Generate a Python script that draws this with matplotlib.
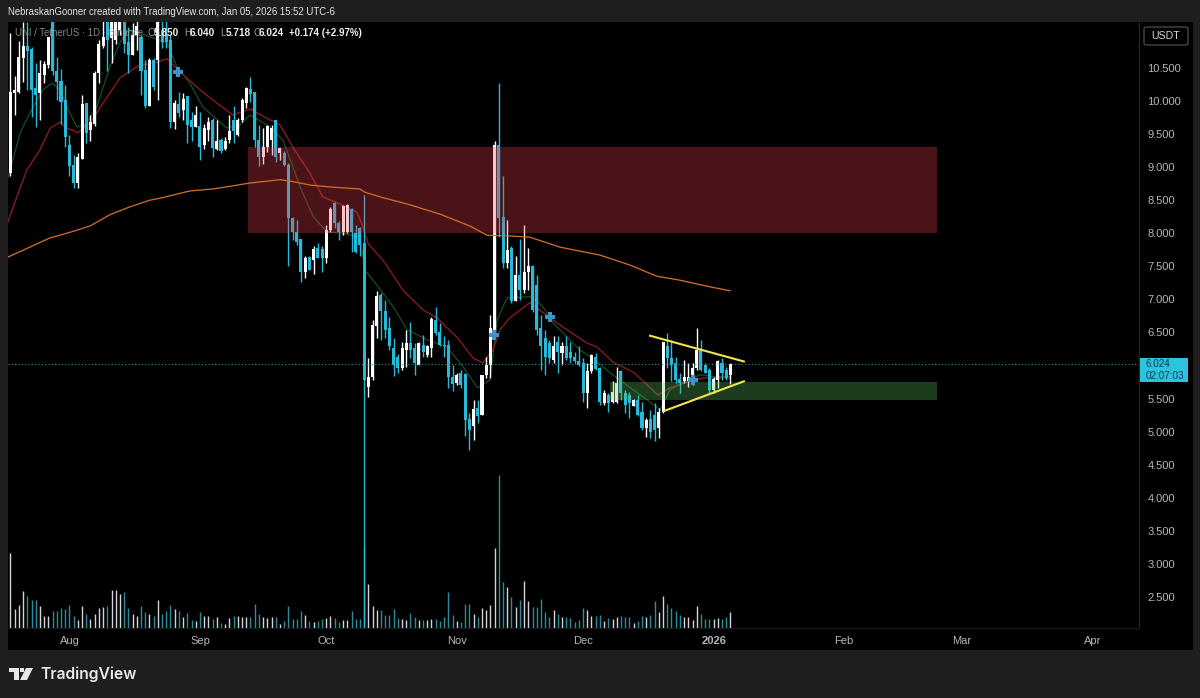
"""UNI / TetherUS daily chart, dark TradingView look."""

import matplotlib

matplotlib.use("Agg")
import matplotlib.pyplot as plt
import numpy as np
from matplotlib.patches import FancyBboxPatch, Polygon, Rectangle

plt.rcParams["font.family"] = ["Liberation Sans", "DejaVu Sans"]

WIDTH, HEIGHT = 1200, 698

# x is in days since 2025-07-18, the first visible candle
opens = [
    8.91, 10.12, 10.14, 10.65, 10.83, 10.78, 10.19, 10.12, 10.39, 10.55,
    11.2, 10.46, 10.31, 10.02, 9.34, 9.03, 8.76, 9.13, 9.97, 9.56,
    9.66, 10.42, 10.83, 11.3, 10.95, 10.92, 11.07, 11.25, 10.90, 10.70,
    11.0, 10.97, 10.47, 9.92, 10.62, 10.62, 11.07, 11.02, 10.92, 9.69,
    9.95, 9.87, 10.07, 9.71, 9.61, 9.62, 9.34, 9.56, 9.72, 9.27,
    9.41, 9.27, 9.41, 9.71, 9.49, 9.71, 9.97, 10.18, 10.13, 9.41,
    9.16, 9.31, 9.41, 9.71, 9.21, 9.21, 9.03, 8.23, 8.02, 7.91,
    7.42, 7.64, 7.60, 7.77, 7.76, 7.62, 8.05, 8.46, 8.16, 8.02,
    8.02, 8.36, 8.0, 8.08, 7.85, 5.68, 5.83, 6.59, 7.07, 6.82,
    6.56, 6.26, 6.13, 5.96, 6.23, 6.34, 6.26, 6.01, 6.31, 6.16,
    6.26, 6.69, 6.51, 6.31, 6.31, 5.83, 5.73, 5.88, 5.87, 5.19,
    5.08, 5.35, 5.25, 5.86, 6.01, 6.54, 9.33, 8.24, 7.55, 7.77,
    6.97, 7.37, 7.14, 7.42, 7.50, 7.22, 6.56, 6.42, 6.34, 6.08,
    6.36, 6.19, 6.30, 6.21, 6.13, 6.06, 6.03, 5.59, 5.91, 6.13,
    5.96, 5.43, 5.55, 5.45, 5.45, 5.91, 5.58, 5.55, 5.38, 5.48,
    5.30, 5.05, 5.19, 5.25, 5.05, 5.30, 6.29, 6.11, 6.03, 5.80,
    5.76, 5.76, 5.81, 5.96, 6.23, 6.01, 5.93, 5.63, 5.78, 6.04, 5.93, 5.85,
]
highs = [
    11.03, 10.38, 10.91, 11.20, 11.20, 10.82, 10.57, 10.62, 10.60, 10.97,
    11.3, 10.66, 10.49, 10.24, 9.49, 9.18, 9.21, 10.09, 9.97, 9.79,
    10.45, 10.92, 11.3, 11.4, 11.4, 11.4, 11.4, 11.4, 11.12, 11.18,
    11.3, 11.0, 10.62, 10.65, 10.65, 11.4, 11.3, 11.3, 11.0, 10.02,
    10.13, 10.12, 10.08, 9.84, 9.92, 9.83, 9.66, 9.76, 9.74, 9.72,
    9.44, 9.45, 9.79, 9.93, 9.75, 10.04, 10.22, 10.36, 10.14, 9.64,
    9.59, 9.64, 9.64, 9.72, 9.29, 9.24, 9.06, 8.25, 8.20, 7.92,
    7.65, 7.65, 7.80, 7.85, 7.80, 8.13, 8.39, 8.48, 8.18, 8.43,
    8.45, 8.38, 8.13, 8.10, 8.58, 6.11, 6.69, 7.12, 7.09, 6.99,
    6.74, 6.41, 6.18, 6.36, 6.54, 6.66, 6.34, 6.36, 6.46, 6.31,
    6.74, 6.89, 6.64, 6.44, 6.39, 6.01, 5.88, 5.93, 5.88, 5.28,
    5.48, 5.48, 5.86, 6.13, 6.76, 9.4, 10.27, 8.86, 8.20, 7.80,
    7.65, 7.91, 8.13, 7.77, 7.52, 7.37, 6.76, 6.54, 6.39, 6.44,
    6.44, 6.36, 6.44, 6.35, 6.21, 6.29, 6.11, 6.03, 6.18, 6.19,
    5.98, 5.63, 5.58, 5.76, 5.98, 5.93, 5.63, 5.60, 5.50, 5.55,
    5.45, 5.20, 5.33, 5.43, 5.35, 6.36, 6.49, 6.39, 6.13, 5.88,
    6.08, 6.03, 6.03, 6.56, 6.39, 6.03, 5.96, 5.83, 6.08, 6.11, 5.98, 6.04,
]
lows = [
    8.86, 9.79, 10.12, 10.29, 10.17, 9.76, 9.61, 9.71, 10.27, 10.50,
    10.39, 10.02, 9.66, 9.31, 8.86, 8.68, 8.68, 9.13, 9.36, 9.39,
    9.62, 10.27, 10.80, 10.45, 10.57, 10.87, 11.0, 10.72, 10.42, 10.70,
    10.77, 10.09, 9.89, 9.92, 10.17, 10.02, 10.80, 10.80, 9.59, 9.57,
    9.76, 9.72, 9.37, 9.39, 9.61, 9.11, 9.27, 9.39, 9.16, 9.26,
    9.21, 9.26, 9.36, 9.37, 9.47, 9.69, 9.89, 9.98, 9.31, 9.01,
    9.05, 9.23, 9.18, 9.08, 9.11, 9.01, 7.50, 7.90, 7.82, 7.27,
    7.32, 7.45, 7.39, 7.62, 7.42, 7.55, 8.02, 8.08, 7.90, 7.97,
    8.0, 7.72, 7.70, 7.65, 2.05, 5.53, 5.78, 6.41, 6.39, 6.41,
    6.24, 5.84, 5.88, 5.93, 5.98, 6.11, 5.86, 6.01, 6.13, 6.13,
    6.13, 6.46, 6.29, 6.13, 5.66, 5.61, 5.71, 5.66, 4.93, 4.72,
    4.87, 5.13, 5.25, 5.81, 5.81, 6.50, 7.95, 7.47, 7.47, 6.94,
    6.97, 6.99, 7.09, 7.14, 6.81, 6.46, 5.93, 5.86, 6.03, 6.03,
    5.88, 6.01, 6.08, 6.03, 6.03, 5.99, 5.44, 5.36, 5.88, 5.93,
    5.40, 5.40, 5.30, 5.43, 5.43, 5.48, 5.28, 5.20, 5.38, 5.24,
    5.02, 4.92, 4.90, 4.85, 4.91, 5.28, 5.96, 5.76, 5.73, 5.58,
    5.73, 5.68, 5.71, 5.93, 5.91, 5.88, 5.58, 5.58, 5.66, 5.78, 5.78, 5.718,
]
closes = [
    10.13, 10.17, 10.67, 10.83, 10.75, 10.17, 10.09, 10.42, 10.56, 10.97,
    10.45, 10.29, 9.99, 9.46, 9.01, 8.76, 9.16, 9.96, 9.51, 9.69,
    10.43, 10.86, 10.97, 10.92, 11.3, 11.25, 11.35, 10.87, 10.70, 11.0,
    11.13, 10.45, 9.92, 10.62, 10.22, 11.2, 10.90, 10.90, 9.69, 9.97,
    9.82, 10.03, 9.64, 9.61, 9.79, 9.31, 9.59, 9.69, 9.29, 9.40,
    9.24, 9.40, 9.55, 9.54, 9.72, 10.02, 10.19, 10.10, 9.41, 9.16,
    9.30, 9.62, 9.59, 9.16, 9.29, 9.03, 8.23, 8.02, 7.87, 7.42,
    7.62, 7.45, 7.76, 7.62, 7.62, 8.05, 8.36, 8.15, 8.02, 8.41,
    8.43, 8.02, 7.72, 7.82, 5.78, 5.83, 6.61, 7.05, 6.82, 6.54,
    6.29, 6.01, 5.96, 6.26, 6.34, 6.23, 6.03, 6.34, 6.21, 6.29,
    6.70, 6.49, 6.31, 6.29, 5.83, 5.72, 5.86, 5.71, 5.18, 5.03,
    5.34, 5.23, 5.86, 6.01, 6.56, 9.33, 8.23, 7.55, 7.75, 6.97,
    7.37, 7.14, 7.42, 7.50, 6.84, 6.54, 6.29, 6.13, 6.11, 6.29,
    6.21, 6.30, 6.11, 6.11, 6.06, 6.01, 5.59, 5.92, 6.16, 5.95,
    5.45, 5.58, 5.43, 5.60, 5.74, 5.58, 5.40, 5.43, 5.48, 5.25,
    5.05, 5.18, 5.0, 5.02, 5.30, 6.36, 6.11, 6.01, 5.78, 5.73,
    5.83, 5.83, 5.96, 6.23, 5.93, 5.88, 5.63, 5.80, 6.06, 5.88, 5.81, 6.024,
]
volumes = [
    75, 19, 23, 37, 32, 28, 28, 22, 12, 12,
    17, 17, 20, 19, 23, 12, 8, 22, 14, 9,
    14, 20, 21, 22, 38, 38, 34, 36, 20, 14,
    12, 22, 16, 14, 12, 28, 14, 17, 23, 19,
    17, 11, 15, 8, 7, 16, 12, 12, 9, 11,
    5, 4, 10, 12, 12, 11, 11, 11, 24, 14,
    11, 10, 11, 11, 4, 7, 22, 9, 9, 17,
    13, 7, 6, 7, 9, 10, 12, 10, 6, 8,
    8, 17, 9, 9, 80, 44, 22, 18, 18, 13,
    13, 19, 10, 9, 8, 15, 11, 8, 8, 8,
    9, 9, 7, 11, 36, 13, 7, 6, 24, 24,
    14, 11, 20, 18, 23, 80, 153, 46, 41, 31,
    21, 28, 47, 27, 21, 21, 29, 16, 11, 18,
    14, 11, 11, 10, 6, 8, 20, 18, 12, 12,
    13, 7, 10, 9, 11, 12, 11, 11, 5, 7,
    12, 11, 13, 27, 16, 32, 24, 20, 17, 13,
    11, 11, 8, 22, 14, 9, 9, 9, 10, 9, 11, 16,
]

ema_long_days = [
    -0.6, 4.6, 9.4, 13.4, 18.9, 23.6, 28.4, 33.1, 35.5, 42.6, 48.1, 52.1,
    56.9, 64, 66.4, 71.1, 75.9, 83, 84.2, 87.8, 94.9, 102, 109.1, 113.2,
    118.6, 123.4, 130.5, 140, 147.1, 153.5, 159, 166.1, 170.9,
]
ema_long = [
    7.64, 7.79, 7.93, 8.0, 8.11, 8.28, 8.40, 8.50, 8.53, 8.64, 8.67, 8.71,
    8.76, 8.81, 8.79, 8.73, 8.70, 8.67, 8.62, 8.55, 8.43, 8.29, 8.11, 7.97,
    7.96, 7.94, 7.79, 7.67, 7.52, 7.35, 7.29, 7.19, 7.13,
]
ema_mid_days = [
    -0.6, 1.5, 3.9, 7, 9.4, 11.8, 13.4, 16, 18.9, 22, 26, 30.3, 34.8, 37.2,
    40.3, 45, 49, 52.8, 56.9, 60.9, 64, 67.1, 71.1, 74.2, 77.6, 82.3, 83.7,
    84.9, 89, 93.2, 98, 101.3, 106, 109.9, 112.2, 114.6, 116.3, 118.6, 123.4,
    128.1, 132.2, 136.9, 139.3, 143.1, 147.9, 151.2, 153.8, 156.6, 160.7,
    164.5, 170.9,
]
ema_mid = [
    8.17, 8.55, 8.96, 9.26, 9.59, 9.68, 9.59, 9.52, 9.67, 9.97, 10.35, 10.53,
    10.59, 10.64, 10.44, 10.17, 9.97, 9.79, 9.88, 9.74, 9.64, 9.30, 8.91,
    8.55, 8.46, 8.32, 8.10, 7.85, 7.55, 7.14, 6.84, 6.72, 6.43, 6.11, 6.04,
    6.24, 6.54, 6.72, 6.95, 6.72, 6.54, 6.34, 6.28, 6.05, 5.90, 5.71, 5.55,
    5.66, 5.75, 5.81, 5.81,
]
ema_short_days = [
    -0.6, 2.3, 4.6, 7.7, 9.9, 11.8, 13.7, 15.8, 17.7, 20.5, 23.6, 26, 27.9,
    30.8, 33.1, 37.2, 39.5, 42.6, 45.7, 51.4, 54.5, 56.9, 61.6, 64.7, 67.1,
    68.8, 71.9, 75.2, 79, 83, 84.2, 87, 90.9, 94.2, 98.9, 103.7, 107.5, 111,
    113.9, 115.6, 117.9, 123.4, 126.2, 128.9, 132.2, 135.3, 138.4, 142.4,
    147.1, 151.2, 154.3, 156.6, 159.8, 163.8, 166.9, 170.9,
]
ema_short = [
    8.84, 9.52, 9.82, 10.17, 10.27, 10.17, 9.87, 9.61, 9.64, 9.91, 10.52,
    10.88, 11.08, 11.03, 10.97, 10.88, 10.52, 10.27, 9.91, 9.59, 9.64, 9.79,
    9.61, 9.41, 9.0, 8.70, 8.25, 8.02, 8.0, 7.94, 7.44, 7.22, 6.89, 6.54,
    6.39, 6.28, 5.98, 5.66, 5.78, 6.69, 7.02, 7.04, 6.91, 6.64, 6.43, 6.23,
    6.11, 5.89, 5.67, 5.48, 5.33, 5.63, 5.74, 5.86, 5.83, 5.83,
]

cross_days = [39.8, 114.8, 128.1, 162]
cross_prices = [10.44, 6.46, 6.73, 5.78]

# supply / demand boxes: start day, end day, low, high
red_box = [56.4, 220, 8.0, 9.3]
green_box = [142.4, 220, 5.48, 5.75]

wedge_top_days = [151.9, 174.2]
wedge_top = [6.45, 6.06]
wedge_bottom_days = [155.2, 174.2]
wedge_bottom = [5.31, 5.76]

last_price = 6.024
# 6.000 sits behind the last price tag, so it has no label
price_ticks = [2.5, 3.0, 3.5, 4.0, 4.5, 5.0, 5.5, 6.5, 7.0, 7.5, 8.0, 8.5, 9.0, 9.5, 10.0, 10.5]
month_days = [14, 45, 75, 106, 136, 167, 198, 226, 257]
month_labels = ["Aug", "Sep", "Oct", "Nov", "Dec", "2026", "Feb", "Mar", "Apr"]

BG = "#1e1e1e"
CYAN = "#26b9d8"
WHITE = "#ffffff"
TEAL_VOL = "#2a8c9c"
GREY_VOL = "#d4d4d4"
AXIS_TXT = "#b4b7bd"


def fx(px):
    return px / WIDTH


def fy(py):
    return 1 - py / HEIGHT


def pane_axes(fig, zorder):
    ax = fig.add_axes([fx(8), fy(628), fx(1131), 606 / HEIGHT], zorder=zorder)
    ax.patch.set_alpha(0)
    ax.set_xlim(-0.59, 268.05)
    for spine in ax.spines.values():
        spine.set_visible(False)
    return ax


fig = plt.figure(figsize=(WIDTH / 100, HEIGHT / 100), dpi=100, facecolor=BG)
fig.add_artist(Rectangle((fx(8), fy(650)), fx(1185), 628 / HEIGHT, transform=fig.transFigure,
                         facecolor="black", edgecolor="none", zorder=0))

opens_arr = np.array(opens)
closes_arr = np.array(closes)
days = np.arange(len(opens))
up = closes_arr >= opens_arr

# --- volume pane ---
vol_ax = pane_axes(fig, 1)
vol_ax.set_ylim(0, 606)
vol_ax.vlines(days, 0, volumes, colors=[GREY_VOL if u else TEAL_VOL for u in up], linewidth=1.0)
vol_ax.set_xticks([])
vol_ax.set_yticks([])

# --- price pane ---
ax = pane_axes(fig, 2)
ax.set_ylim(2.028, 11.196)

ax.plot(ema_short_days, ema_short, color="#14501f", linewidth=0.9, zorder=2)
ax.plot(ema_mid_days, ema_mid, color="#7a1a1c", linewidth=1.1, zorder=2)

for mask, color in ((up, WHITE), (~up, CYAN)):
    ax.vlines(days[mask], np.array(lows)[mask], np.array(highs)[mask], colors=color, linewidth=1.0, zorder=3)
    bottoms = np.minimum(opens_arr, closes_arr)[mask]
    heights = np.abs(closes_arr - opens_arr)[mask]
    ax.bar(days[mask], heights, bottom=bottoms, width=0.72, color=color, linewidth=0, zorder=3)

ax.axhline(last_price, color="#2a8c9c", linewidth=0.8, linestyle=(0, (1, 2)), zorder=4)

for (start, end, low, high), color in ((red_box, (0.96, 0.25, 0.31)), (green_box, (0.37, 0.78, 0.39))):
    ax.add_patch(Rectangle((start, low), end - start, high - low, facecolor=color,
                           edgecolor="none", alpha=0.3, zorder=5))

ax.plot(ema_long_days, ema_long, color="#cf6a28", linewidth=0.95, zorder=6)
ax.plot(wedge_top_days, wedge_top, color="#f4e44c", linewidth=1.5, zorder=7)
ax.plot(wedge_bottom_days, wedge_bottom, color="#f4e44c", linewidth=1.5, zorder=7)
ax.plot(cross_days, cross_prices, linestyle="none", marker="P", markersize=6.5,
        color="#3f93c6", markeredgewidth=0, zorder=8)

ax.yaxis.tick_right()
ax.set_yticks(price_ticks)
ax.set_yticklabels([f"{p:.3f}" for p in price_ticks])
ax.tick_params(axis="y", length=0, pad=6, labelsize=8, labelcolor=AXIS_TXT)
ax.set_xticks(month_days)
ax.set_xticklabels(month_labels)
ax.tick_params(axis="x", length=0, pad=6, labelsize=8, labelcolor=AXIS_TXT)
for label in ax.get_xticklabels():
    if label.get_text() == "2026":
        label.set_fontweight("bold")

# faint pane separators
ax.spines["right"].set_visible(True)
ax.spines["right"].set_color("#242424")
ax.spines["bottom"].set_visible(True)
ax.spines["bottom"].set_color("#1a1a1a")

# --- header and legend ---
fig.text(fx(8), fy(12), "NebraskanGooner created with TradingView.com, Jan 05, 2026 15:52 UTC-6",
         color="#e4e4e4", fontsize=6.9, va="center", zorder=10)
fig.text(fx(15), fy(33), "UNI / TetherUS · 1D · Binance", color="#9a9ea6", fontsize=6.9,
         va="center", alpha=0.85, zorder=10)
for px, letter, value in ((148, "O", "5.850"), (184, "H", "6.040"), (220, "L", "5.718"), (253, "C", "6.024")):
    fig.text(fx(px), fy(33), letter, color="#9a9ea6", fontsize=7, va="center", zorder=10)
    fig.text(fx(px + 6), fy(33), value, color="#f0f0f0", fontsize=7.2, fontweight="bold", va="center", zorder=10)
fig.text(fx(289), fy(33), "+0.174 (+2.97%)", color="#f0f0f0", fontsize=7, fontweight="bold", va="center", zorder=10)

# --- price scale furniture ---
fig.add_artist(FancyBboxPatch((fx(1144), fy(45)), fx(44), 18 / HEIGHT, transform=fig.transFigure,
                              boxstyle="round,pad=0,rounding_size=0.002", facecolor="black",
                              edgecolor="#55585e", linewidth=0.8, zorder=10))
fig.text(fx(1166), fy(36), "USDT", color="#d8d8d8", fontsize=7.6, ha="center", va="center", zorder=11)

fig.add_artist(Rectangle((fx(1140), fy(382)), fx(48), 24 / HEIGHT, transform=fig.transFigure,
                         facecolor="#2cc3de", edgecolor="none", zorder=10))
fig.text(fx(1146), fy(370), "6.024\n02:07:03", color="#0c3c4c", fontsize=7.1, linespacing=1.25,
         va="center", zorder=11)

# --- TradingView logo ---
for shape in (
    Polygon([(fx(9), fy(668)), (fx(19), fy(668)), (fx(19), fy(680)), (fx(14), fy(680)),
             (fx(14), fy(672)), (fx(9), fy(672))], closed=True),
    Polygon([(fx(26), fy(668)), (fx(33), fy(668)), (fx(27), fy(680)), (fx(20), fy(680))], closed=True),
):
    shape.set(transform=fig.transFigure, facecolor="#e8e8e8", edgecolor="none", zorder=10)
    fig.add_artist(shape)
fig.add_artist(Rectangle((fx(20), fy(672)), fx(3.6), 3.6 / HEIGHT, transform=fig.transFigure,
                         facecolor="#e8e8e8", edgecolor="none", zorder=10))
fig.text(fx(40), fy(674), "TradingView", color="#e8e8e8", fontsize=11.3, family=["Inter", "DejaVu Sans"],
         fontweight="semibold", va="center", zorder=10)

fig.savefig("out.png", dpi=100, facecolor=BG)
